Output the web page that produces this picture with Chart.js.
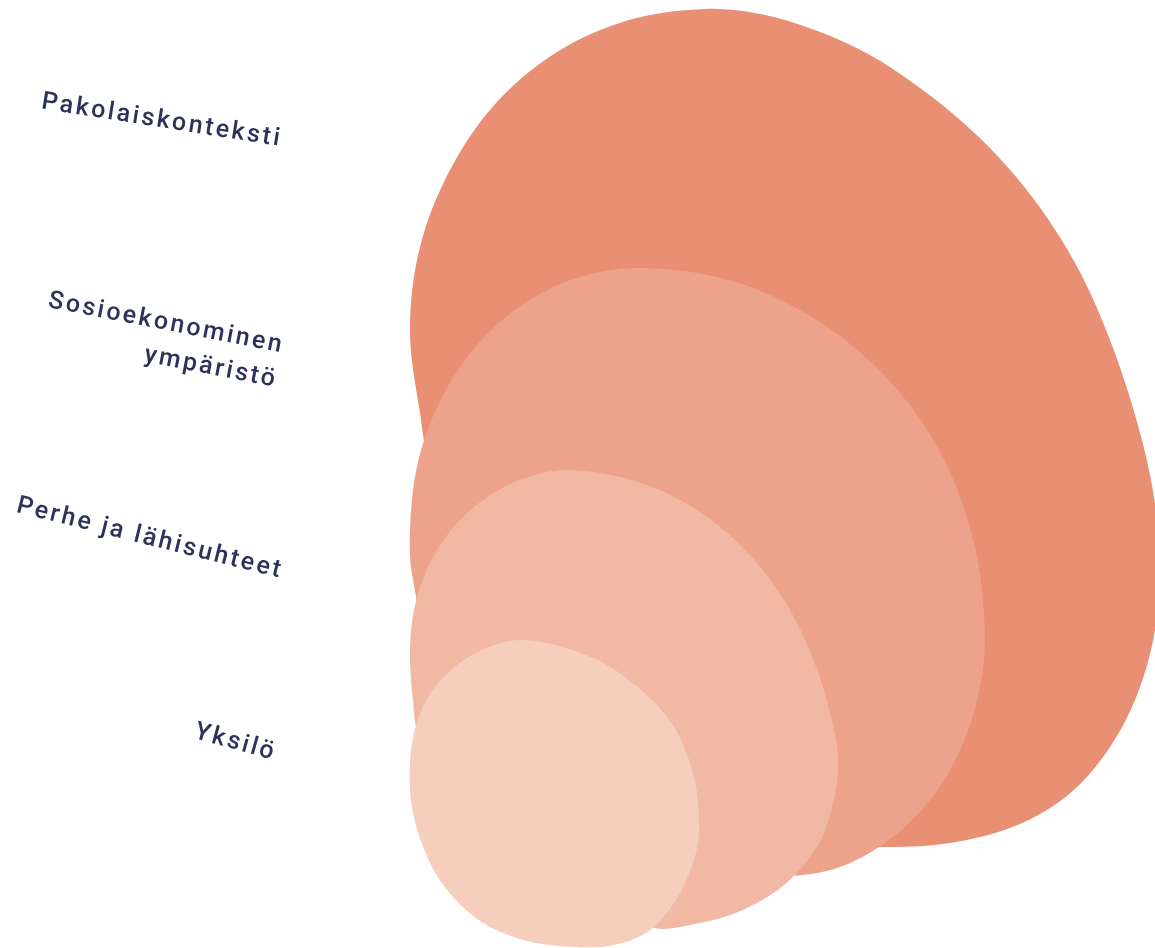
<!DOCTYPE html>
<html>
<head>
<meta charset="utf-8">
<script src="https://cdn.jsdelivr.net/npm/chart.js@4/dist/chart.umd.min.js"></script>
<style>
  html, body { margin: 0; padding: 0; background: #ffffff; }
  #wrap { position: relative; width: 1155px; height: 948px; }
</style>
</head>
<body>
<div id="wrap"><canvas id="c"></canvas></div>
<script>
// Layer names (outermost to innermost)
const layerNames = ['Pakolaiskonteksti', 'Sosioekonominen ympäristö', 'Perhe ja lähisuhteet', 'Yksilö'];
const labelLines = [['Pakolaiskonteksti'], ['Sosioekonominen', 'ympäristö'], ['Perhe ja lähisuhteet'], ['Yksilö']];

// Outline points of each layer (x to the right, y downwards)
const outerX = [650, 520, 432, 420, 410, 420, 450, 496, 557, 629, 705, 760, 815, 870, 920, 968, 1012, 1050, 1083, 1110, 1133, 1151, 1160, 1155, 1137, 1108, 1068, 1015, 950, 885, 800, 650, 520, 432, 420];
const outerY = [760, 640, 470, 413, 330, 247, 170, 103, 52, 20, 9, 14, 30, 55, 88, 127, 172, 222, 278, 340, 408, 480, 555, 630, 695, 750, 795, 826, 843, 847, 842, 760, 640, 470, 413];

const socioX = [550, 440, 413, 410, 418, 441, 477, 525, 580, 640, 729, 812, 884, 939, 973, 985, 978, 958, 926, 885, 837, 785, 700, 550, 440, 413, 410];
const socioY = [800, 680, 580, 530, 462, 399, 345, 303, 277, 268, 280, 317, 375, 450, 539, 633, 696, 755, 805, 843, 868, 876, 870, 800, 680, 580, 530];

const familyX = [480, 420, 413, 410, 416, 432, 458, 492, 531, 573, 641, 700, 750, 790, 818, 834, 838, 834, 818, 784, 738, 690, 655, 600, 480, 420, 413];
const familyY = [840, 740, 700, 647, 601, 559, 522, 494, 476, 470, 483, 512, 555, 610, 672, 730, 760, 800, 845, 885, 912, 925, 928, 905, 840, 740, 700];

const selfX = [413, 410, 417, 435, 472, 522, 593, 641, 674, 694, 699, 694, 674, 646, 602, 550, 517, 483, 453, 430, 413, 410, 417];
const selfY = [813, 763, 722, 687, 655, 640, 658, 690, 727, 777, 827, 860, 903, 933, 947, 945, 938, 923, 897, 863, 813, 763, 722];

const layerColors = ['#E88F74', '#EDA38B', '#F1B8A4', '#F5CEBE'];

// Label anchor (right end of baseline of the last line) and tilt
const labelAnchors = [[281, 146], [276, 387], [281, 578], [274, 760]];
const labelAngles = [8.9, 11, 14, 15.5];

function toPoints(xs, ys) { return xs.map((x, i) => ({x: x, y: ys[i]})); }

const outlines = [toPoints(outerX, outerY), toPoints(socioX, socioY), toPoints(familyX, familyY), toPoints(selfX, selfY)];

// innermost first so it is drawn on top
const datasets = [3, 2, 1, 0].map(i => ({
  label: layerNames[i],
  data: outlines[i],
  showLine: true,
  fill: 'shape',
  tension: 0.34,
  backgroundColor: layerColors[i],
  borderColor: layerColors[i],
  borderWidth: 0,
  pointRadius: 0,
  pointHoverRadius: 0
}));

const labelPlugin = {
  id: 'layerLabels',
  afterDraw(chart) {
    const ctx = chart.ctx;
    ctx.save();
    ctx.fillStyle = '#2D3259';
    ctx.font = '500 25px Roboto, "DejaVu Sans", sans-serif';
    ctx.textAlign = 'right';
    ctx.textBaseline = 'alphabetic';
    if ('letterSpacing' in ctx) ctx.letterSpacing = '2.6px';
    labelLines.forEach((lines, i) => {
      const [ax, ay] = labelAnchors[i];
      ctx.save();
      ctx.translate(ax, ay);
      ctx.rotate(labelAngles[i] * Math.PI / 180);
      const lh = 35;
      lines.forEach((t, k) => {
        ctx.fillText(t, 0, -(lines.length - 1 - k) * lh);
      });
      ctx.restore();
    });
    ctx.restore();
  }
};

new Chart(document.getElementById('c'), {
  type: 'scatter',
  data: { datasets: datasets },
  options: {
    responsive: true,
    maintainAspectRatio: false,
    animation: false,
    layout: { padding: 0 },
    plugins: { legend: { display: false }, tooltip: { enabled: false } },
    events: [],
    scales: {
      x: { type: 'linear', min: 0, max: 1155, display: false },
      y: { type: 'linear', min: 0, max: 948, reverse: true, display: false }
    }
  },
  plugins: [labelPlugin]
});
</script>
</body>
</html>
